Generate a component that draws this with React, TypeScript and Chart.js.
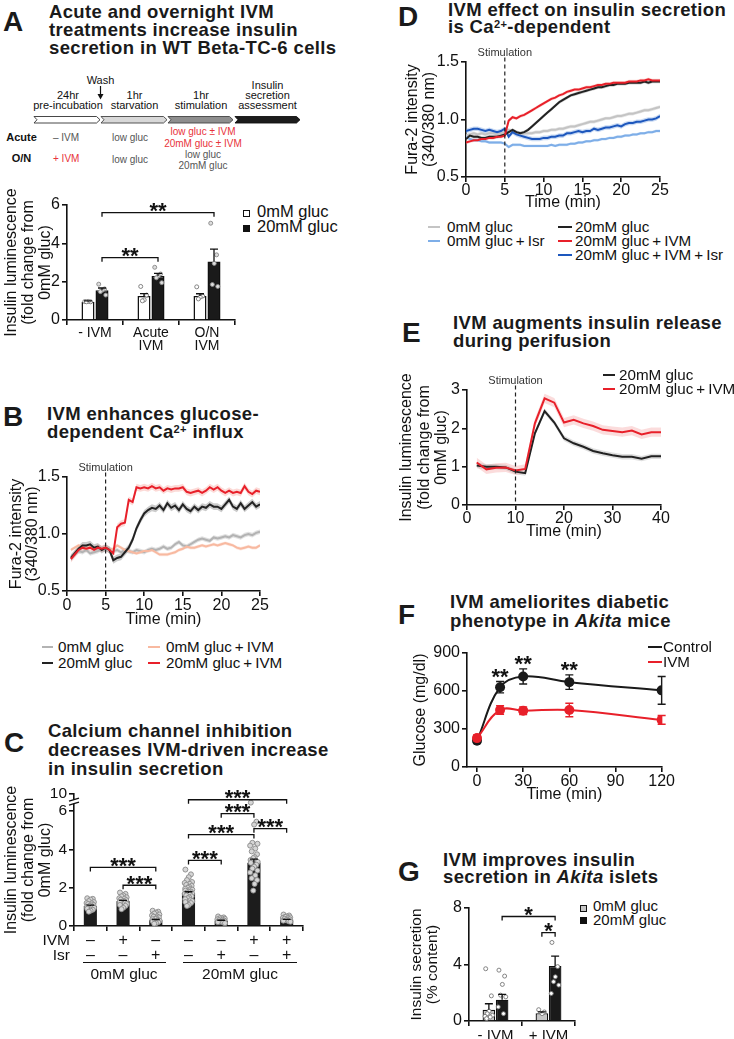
import React, { useEffect, useRef } from 'react';
import { Chart, registerables } from 'chart.js';

Chart.register(...registerables);

const FONT = "'Liberation Sans', Arial, Helvetica, sans-serif";
Chart.defaults.font.family = FONT;
Chart.defaults.color = '#111';

const PLUS = '\u2009+\u2009';

// ---------------- Panel A ----------------
const A_CATEGORIES = [['- IVM'], ['Acute', 'IVM'], ['O/N', 'IVM']];
const A_SERIES = ['0mM gluc', '20mM gluc'];
const A_GLUC0 = [0.95, 1.25, 1.25];
const A_GLUC20 = [1.55, 2.3, 3.05];
const A_GLUC0_SEM = [0.05, 0.13, 0.12];
const A_GLUC20_SEM = [0.12, 0.13, 0.65];
const A_GLUC0_DOTS = [[0.96, 0.95, 0.97, 0.95], [1.75, 1.3, 1.05, 1.0], [1.73, 1.25, 1.2, 1.1]];
const A_GLUC20_DOTS = [[1.87, 1.62, 1.55, 1.48, 1.3], [2.75, 2.4, 2.3, 2.2, 1.95], [5.05, 3.4, 2.95, 1.85, 1.75]];
const A_Y_TICKS = [0, 2, 4, 6];

// ---------------- Panel B ----------------
const B_TIME = [0.5, 1, 1.5, 2, 2.5, 3, 3.5, 4, 4.5, 5, 5.5, 6, 6.5, 7, 7.5, 8, 8.5, 9, 9.5, 10,
  10.5, 11, 11.5, 12, 12.5, 13, 13.5, 14, 14.5, 15, 15.5, 16, 16.5, 17, 17.5, 18, 18.5, 19, 19.5, 20,
  20.5, 21, 21.5, 22, 22.5, 23, 23.5, 24, 24.5, 25];
const B_GLUC0 = [0.8, 0.83, 0.85, 0.84, 0.86, 0.83, 0.84, 0.85, 0.87, 0.86,
  0.87, 0.85, 0.86, 0.84, 0.86, 0.85, 0.84, 0.86, 0.85, 0.84,
  0.86, 0.87, 0.86, 0.87, 0.89, 0.87, 0.88, 0.91, 0.93, 0.9,
  0.89, 0.91, 0.93, 0.95, 0.96, 0.95, 0.94, 0.97, 0.96, 0.97,
  0.98, 0.97, 0.99, 0.98, 0.97, 0.99, 1.0, 0.99, 1.01, 1.02];
const B_GLUC0_IVM = [0.86, 0.88, 0.9, 0.88, 0.87, 0.89, 0.87, 0.88, 0.87, 0.88,
  0.86, 0.87, 0.9, 0.88, 0.86, 0.85, 0.84, 0.83, 0.84, 0.85,
  0.85, 0.86, 0.84, 0.82, 0.82, 0.82, 0.83, 0.84, 0.86, 0.87,
  0.89, 0.88, 0.88, 0.89, 0.9, 0.89, 0.9, 0.91, 0.9, 0.91,
  0.92, 0.91, 0.9, 0.88, 0.87, 0.88, 0.89, 0.88, 0.88, 0.9];
const B_GLUC20 = [0.79, 0.83, 0.87, 0.9, 0.9, 0.91, 0.88, 0.89, 0.86, 0.88,
  0.86, 0.77, 0.79, 0.8, 0.84, 0.88, 0.95, 1.05, 1.12, 1.18,
  1.21, 1.23, 1.22, 1.25, 1.21, 1.27, 1.23, 1.25, 1.21, 1.26,
  1.22, 1.2, 1.24, 1.21, 1.24, 1.23, 1.26, 1.24, 1.24, 1.22,
  1.26, 1.3, 1.24, 1.22, 1.27, 1.22, 1.25, 1.28, 1.24, 1.26];
const B_GLUC20_IVM = [0.78, 0.82, 0.86, 0.88, 0.87, 0.88, 0.86, 0.88, 0.87, 0.88,
  0.86, 0.83, 1.06, 1.09, 1.1, 1.3, 1.28, 1.41, 1.4, 1.41,
  1.4, 1.42, 1.4, 1.41, 1.38, 1.4, 1.39, 1.4, 1.4, 1.41,
  1.37, 1.36, 1.37, 1.38, 1.36, 1.38, 1.41, 1.39, 1.41, 1.38,
  1.36, 1.38, 1.36, 1.37, 1.36, 1.42, 1.37, 1.35, 1.38, 1.37];
const B_SEM = [0.02, 0.015, 0.03, 0.03];

// ---------------- Panel C ----------------
const C_IVM = ['–', '+', '–', '–', '–', '+', '+'];
const C_ISR = ['–', '–', '+', '–', '+', '–', '+'];
const C_GROUPS = ['0mM gluc', '20mM gluc'];
const C_MEANS = [1.05, 1.3, 0.3, 1.72, 0.28, 3.3, 0.33];
const C_SEM = [0.04, 0.04, 0.04, 0.07, 0.02, 0.2, 0.02];
const C_DOTS = [
  [1.45, 1.42, 1.38, 1.3, 1.25, 1.2, 1.18, 1.15, 1.1, 1.08, 1.05, 1.0, 0.98, 0.95, 0.9, 0.85, 0.8, 0.75],
  [1.75, 1.68, 1.6, 1.55, 1.5, 1.45, 1.42, 1.38, 1.35, 1.3, 1.28, 1.25, 1.2, 1.15, 1.1, 1.05, 0.95, 0.88],
  [0.8, 0.75, 0.7, 0.65, 0.6, 0.55, 0.5, 0.48, 0.45, 0.4, 0.38, 0.35, 0.3, 0.28, 0.25, 0.2, 0.15, 0.12],
  [2.95, 2.7, 2.55, 2.4, 2.3, 2.25, 2.2, 2.15, 2.1, 2.05, 2.0, 1.95, 1.92, 1.9, 1.85, 1.8, 1.78, 1.75, 1.7, 1.68, 1.65, 1.6, 1.55, 1.5, 1.45, 1.4, 1.35, 1.3, 1.25, 1.2, 1.1, 1.05],
  [0.5, 0.45, 0.42, 0.4, 0.38, 0.35, 0.33, 0.3, 0.28, 0.25, 0.22, 0.2, 0.18, 0.15],
  [6.45, 5.45, 5.3, 4.35, 4.3, 4.2, 4.05, 3.9, 3.75, 3.6, 3.55, 3.45, 3.4, 3.35, 3.3, 3.2, 3.1, 3.0, 2.9, 2.8, 2.65, 2.5, 2.4, 2.2, 1.85],
  [0.6, 0.55, 0.5, 0.48, 0.45, 0.42, 0.4, 0.38, 0.35, 0.32, 0.3, 0.28, 0.25, 0.22],
];
// axis with a break: the top tick (drawn at 6.9) is labelled 10
const C_Y_TICKS = [0, 2, 4, 6, 6.9];
const C_Y_TICK_LABELS = ['0', '2', '4', '6', '10'];

// ---------------- Panel D ----------------
const D_TIME = [0, 0.5, 1, 1.5, 2, 2.5, 3, 3.5, 4, 4.5, 5, 5.5, 6, 6.5, 7, 7.5, 8, 8.5, 9, 9.5, 10,
  10.5, 11, 11.5, 12, 12.5, 13, 13.5, 14, 14.5, 15, 15.5, 16, 16.5, 17, 17.5, 18, 18.5, 19, 19.5, 20,
  20.5, 21, 21.5, 22, 22.5, 23, 23.5, 24, 24.5, 25];
const D_GLUC0 = [0.86, 0.87, 0.88, 0.87, 0.88, 0.87, 0.88, 0.88, 0.87, 0.88,
  0.89, 0.91, 0.9, 0.89, 0.88, 0.88, 0.88, 0.88, 0.89, 0.89,
  0.9, 0.9, 0.91, 0.91, 0.92, 0.92, 0.93, 0.94, 0.94, 0.95,
  0.96, 0.97, 0.98, 0.98, 0.99, 1.0, 1.01, 1.01, 1.02, 1.03,
  1.03, 1.04, 1.05, 1.05, 1.06, 1.07, 1.08, 1.08, 1.09, 1.1, 1.11];
const D_GLUC0_ISR = [0.85, 0.83, 0.82, 0.82, 0.81, 0.81, 0.8, 0.8, 0.8, 0.8,
  0.79, 0.76, 0.78, 0.78, 0.78, 0.77, 0.77, 0.77, 0.77, 0.77,
  0.77, 0.77, 0.78, 0.77, 0.78, 0.78, 0.78, 0.79, 0.79, 0.8,
  0.8, 0.81, 0.81, 0.82, 0.82, 0.83, 0.83, 0.84, 0.84, 0.85,
  0.85, 0.86, 0.86, 0.87, 0.87, 0.88, 0.88, 0.89, 0.89, 0.9, 0.9];
const D_GLUC20 = [0.83, 0.86, 0.85, 0.85, 0.84, 0.84, 0.85, 0.85, 0.85, 0.86,
  0.87, 0.89, 0.91, 0.89, 0.88, 0.89, 0.91, 0.94, 0.97, 1.0,
  1.03, 1.06, 1.09, 1.12, 1.15, 1.17, 1.19, 1.21, 1.22, 1.23,
  1.24, 1.25, 1.26, 1.27, 1.28, 1.28, 1.29, 1.3, 1.3, 1.31,
  1.31, 1.31, 1.32, 1.32, 1.32, 1.32, 1.33, 1.32, 1.33, 1.33, 1.33];
const D_GLUC20_IVM = [0.8, 0.81, 0.82, 0.82, 0.83, 0.83, 0.84, 0.84, 0.85, 0.85,
  0.86, 0.99, 1.02, 1.01, 1.03, 1.04, 1.06, 1.08, 1.1, 1.12,
  1.14, 1.16, 1.18, 1.19, 1.21, 1.22, 1.24, 1.25, 1.26, 1.26,
  1.27, 1.28, 1.28, 1.29, 1.3, 1.3, 1.31, 1.31, 1.32, 1.32,
  1.32, 1.32, 1.33, 1.33, 1.33, 1.34, 1.34, 1.35, 1.34, 1.34, 1.34];
const D_GLUC20_IVM_ISR = [0.9, 0.91, 0.92, 0.92, 0.91, 0.9, 0.91, 0.9, 0.89, 0.9,
  0.92, 0.85, 0.89, 0.87, 0.86, 0.85, 0.84, 0.83, 0.83, 0.83,
  0.84, 0.84, 0.85, 0.85, 0.86, 0.86, 0.88, 0.88, 0.89, 0.9,
  0.89, 0.9, 0.9, 0.92, 0.91, 0.92, 0.93, 0.93, 0.94, 0.95,
  0.94, 0.96, 0.97, 0.97, 0.98, 0.98, 0.99, 1.0, 1.0, 1.01, 1.03];
const D_SEM = [0.015, 0.012, 0.015, 0.015, 0.02];

// ---------------- Panel E ----------------
const E_TIME = [2, 4, 6, 8, 10, 12, 14, 16, 18, 20, 22, 24, 26, 28, 30, 32, 34, 36, 38, 40];
const E_GLUC20 = [1.03, 1.0, 1.0, 0.98, 0.87, 0.83, 1.87, 2.45, 2.15, 1.74, 1.61, 1.52, 1.41, 1.35, 1.3, 1.26, 1.26, 1.21, 1.27, 1.27];
const E_GLUC20_IVM = [1.11, 0.93, 0.97, 0.98, 0.9, 0.94, 2.13, 2.78, 2.67, 2.15, 2.22, 2.13, 2.06, 1.96, 1.93, 1.9, 1.94, 1.84, 1.9, 1.9];
const E_SEM = [0.07, 0.12];

// ---------------- Panel F ----------------
const F_TIME = [0, 15, 30, 60, 120];
const F_CONTROL = [207, 630, 715, 670, 605];
const F_CONTROL_SEM = [20, 45, 60, 57, 110];
const F_IVM = [228, 450, 445, 450, 372];
const F_IVM_SEM = [25, 34, 30, 53, 35];
const F_X_TICKS = [0, 30, 60, 90, 120];
const F_STARS = [1, 2, 3];

// ---------------- Panel G ----------------
const G_CATEGORIES = ['- IVM', '+ IVM'];
const G_GLUC0 = [0.8, 0.55];
const G_GLUC20 = [1.5, 3.9];
const G_GLUC0_SEM = [0.42, 0.1];
const G_GLUC20_SEM = [0.38, 0.7];
const G_GLUC0_DOTS = [[3.7, 1.78, 0.7, 0.52, 0.4, 0.33, 0.28, 0.17], [0.8, 0.64, 0.52]];
const G_GLUC20_DOTS = [[3.6, 3.18, 2.59, 1.83, 1.71, 1.0, 0.52], [5.56, 3.85, 3.13, 2.78, 2.54, 1.95]];

type Bracket = { from: [number, number]; to: [number, number]; y: number; label: string };
const A_BRACKETS: Bracket[] = [
  { from: [1, 0], to: [1, 1], y: 3.25, label: '**' },
  { from: [1, 0], to: [1, 2], y: 5.6, label: '**' },
];
const C_BRACKETS: Bracket[] = [
  { from: [0, 0], to: [0, 2], y: 3.06, label: '***' },
  { from: [0, 1], to: [0, 2], y: 2.13, label: '***' },
  { from: [0, 3], to: [0, 4], y: 3.43, label: '***' },
  { from: [0, 3], to: [0, 5], y: 4.78, label: '***' },
  { from: [0, 4], to: [0, 5], y: 5.87, label: '***' },
  { from: [0, 5], to: [0, 6], y: 5.09, label: '***' },
  { from: [0, 3], to: [0, 6], y: 6.6, label: '***' },
];
const G_BRACKETS: Bracket[] = [
  { from: [1, 0], to: [1, 1], y: 7.4, label: '*' },
  { from: [0, 1], to: [1, 1], y: 6.25, label: '*' },
];

const JITTER = [-0.28, 0.22, 0.02, -0.14, 0.32, -0.34, 0.12, -0.2, 0.28, 0.06, -0.06, -0.3, 0.18, 0.34];

// ---------------- helpers ----------------
const AX = '#111';
const common = {
  responsive: false,
  maintainAspectRatio: false,
  animation: false,
  events: [],
};
const noPlugins = { legend: { display: false }, tooltip: { enabled: false } };

const axisBase = (size: number, tickPad = 2, lh?: string) => ({
  border: { display: true, color: AX, width: 1.6 },
  grid: { display: true, drawOnChartArea: false, drawTicks: true, tickLength: 5, color: AX, lineWidth: 1.6 },
  ticks: { color: AX, font: { size, family: FONT, lineHeight: lh || `${size}px` }, padding: tickPad, maxRotation: 0, autoSkip: false },
});
const axisTitle = (text: any, size: number, lh: number, top: number, bottom = 0) => ({
  display: true, text, color: AX, font: { size, family: FONT, lineHeight: `${lh}px` }, padding: { top, bottom },
});

// vertical (rotated) axis title drawn without width compression
const yTitle = (lines: string[], size: number, lh: number, firstX: number) => ({
  id: 'yTitle',
  afterDraw(chart: any) {
    const { ctx, chartArea } = chart;
    const cy = (chartArea.top + chartArea.bottom) / 2;
    ctx.save();
    ctx.translate(firstX, cy);
    ctx.rotate(-Math.PI / 2);
    ctx.font = `${size}px ${FONT}`;
    ctx.fillStyle = AX;
    ctx.textAlign = 'center';
    ctx.textBaseline = 'middle';
    lines.forEach((l, i) => ctx.fillText(l, 0, i * lh));
    ctx.restore();
  },
});

function drawStars(ctx: any, x: number, centerY: number, label: string, size = 22) {
  ctx.font = `bold ${size}px ${FONT}`;
  ctx.textAlign = 'center';
  ctx.textBaseline = 'alphabetic';
  ctx.fillStyle = '#111';
  ctx.fillText(label, x, centerY + 0.573 * size);
}

function barDecor(o: { sems: number[][]; dots: number[][][]; dotFill: string[]; dotStroke: string[]; dotR: number; spread: number; brackets: Bracket[] }) {
  return {
    id: 'barDecor',
    afterDatasetsDraw(chart: any) {
      const ctx = chart.ctx;
      const ys = chart.scales.y;
      ctx.save();
      o.dots.forEach((groups, di) => {
        const meta = chart.getDatasetMeta(di);
        groups.forEach((vals, i) => {
          const bar = meta.data[i];
          const w = bar.width * o.spread;
          vals.forEach((v, k) => {
            const px = bar.x + JITTER[k % JITTER.length] * w;
            const py = ys.getPixelForValue(v);
            ctx.beginPath();
            ctx.arc(px, py, o.dotR, 0, Math.PI * 2);
            ctx.fillStyle = o.dotFill[di];
            ctx.fill();
            ctx.lineWidth = 0.9;
            ctx.strokeStyle = o.dotStroke[di];
            ctx.stroke();
          });
        });
      });
      o.sems.forEach((sems, di) => {
        const meta = chart.getDatasetMeta(di);
        sems.forEach((s, i) => {
          const bar = meta.data[i];
          const v = chart.data.datasets[di].data[i];
          const y0 = ys.getPixelForValue(v);
          const y1 = ys.getPixelForValue(v + s);
          ctx.strokeStyle = '#111';
          ctx.lineWidth = 1.3;
          ctx.beginPath();
          ctx.moveTo(bar.x, y0);
          ctx.lineTo(bar.x, y1);
          ctx.moveTo(bar.x - 4, y1);
          ctx.lineTo(bar.x + 4, y1);
          ctx.stroke();
        });
      });
      o.brackets.forEach((b) => {
        const x1 = chart.getDatasetMeta(b.from[0]).data[b.from[1]].x;
        const x2 = chart.getDatasetMeta(b.to[0]).data[b.to[1]].x;
        const y = ys.getPixelForValue(b.y);
        ctx.strokeStyle = '#111';
        ctx.lineWidth = 1.3;
        ctx.beginPath();
        ctx.moveTo(x1, y + 4);
        ctx.lineTo(x1, y);
        ctx.lineTo(x2, y);
        ctx.lineTo(x2, y + 4);
        ctx.stroke();
        drawStars(ctx, (x1 + x2) / 2, y - 7, b.label);
      });
      ctx.restore();
    },
  };
}

const stimPlugin = (t: number) => ({
  id: 'stim',
  afterDatasetsDraw(chart: any) {
    const { ctx, chartArea } = chart;
    const px = chart.scales.x.getPixelForValue(t);
    ctx.save();
    ctx.strokeStyle = '#222';
    ctx.lineWidth = 1.2;
    ctx.setLineDash([4, 3]);
    ctx.beginPath();
    ctx.moveTo(px, chartArea.top - 4.5);
    ctx.lineTo(px, chartArea.bottom);
    ctx.stroke();
    ctx.setLineDash([]);
    ctx.font = `11px ${FONT}`;
    ctx.fillStyle = '#333';
    ctx.textAlign = 'center';
    ctx.textBaseline = 'middle';
    ctx.fillText('Stimulation', px, chartArea.top - 9.5);
    ctx.restore();
  },
});

const axisBreak = (lo: number, hi: number) => ({
  id: 'axisBreak',
  afterDraw(chart: any) {
    const ys = chart.scales.y;
    const ctx = chart.ctx;
    const x = chart.chartArea.left;
    const y1 = ys.getPixelForValue(hi);
    const y2 = ys.getPixelForValue(lo);
    ctx.save();
    ctx.fillStyle = '#fff';
    ctx.fillRect(x - 3, y1, 6, y2 - y1);
    ctx.strokeStyle = '#111';
    ctx.lineWidth = 1.3;
    [y1, y2].forEach((y) => {
      ctx.beginPath();
      ctx.moveTo(x - 5, y + 1.5);
      ctx.lineTo(x + 5, y - 1.5);
      ctx.stroke();
    });
    ctx.restore();
  },
});

function lineSeries(times: number[], vals: number[], color: string, order: number) {
  return { data: times.map((t, i) => ({ x: t, y: vals[i] })), borderColor: color, borderWidth: 2, pointRadius: 0, fill: false, tension: 0, order };
}
function bandSeries(times: number[], vals: number[], sem: number, color: string) {
  return [
    { data: times.map((t, i) => ({ x: t, y: vals[i] + sem })), borderColor: 'rgba(0,0,0,0)', borderWidth: 0, pointRadius: 0, fill: '+1', backgroundColor: color, tension: 0, order: 20 },
    { data: times.map((t, i) => ({ x: t, y: vals[i] - sem })), borderColor: 'rgba(0,0,0,0)', borderWidth: 0, pointRadius: 0, fill: false, tension: 0, order: 20 },
  ];
}

// ---------------- chart configs ----------------
function makeA(): any {
  return {
    type: 'bar',
    data: {
      labels: A_CATEGORIES,
      datasets: [
        { label: A_SERIES[0], data: A_GLUC0, backgroundColor: '#fff', borderColor: '#111', borderWidth: 1.5, categoryPercentage: 0.5, barPercentage: 0.93 },
        { label: A_SERIES[1], data: A_GLUC20, backgroundColor: '#1a1a1a', borderColor: '#111', borderWidth: 1.5, categoryPercentage: 0.5, barPercentage: 0.93 },
      ],
    },
    options: {
      ...common,
      plugins: noPlugins,
      layout: { padding: { top: 20, right: 5, left: 0, bottom: 0 } },
      scales: {
        x: { ...axisBase(14, 2, '13px'), afterFit: (s: any) => { s.height = 40; } },
        y: {
          ...axisBase(16), min: 0, max: 6,
          afterBuildTicks: (s: any) => { s.ticks = A_Y_TICKS.map((v) => ({ value: v })); },
          afterFit: (s: any) => { s.width = 67; },
        },
      },
    },
    plugins: [
      barDecor({ sems: [A_GLUC0_SEM, A_GLUC20_SEM], dots: [A_GLUC0_DOTS, A_GLUC20_DOTS], dotFill: ['#fff', '#ddd'], dotStroke: ['#777', '#888'], dotR: 2, spread: 0.9, brackets: A_BRACKETS }),
      yTitle(['Insulin luminescence', '(fold change from', '0mM gluc)'], 16, 17, 12),
    ],
  };
}

function makeB(): any {
  return {
    type: 'line',
    data: {
      datasets: [
        ...bandSeries(B_TIME, B_GLUC0, B_SEM[0], 'rgba(170,170,170,0.35)'),
        ...bandSeries(B_TIME, B_GLUC0_IVM, B_SEM[1], 'rgba(250,190,170,0.35)'),
        ...bandSeries(B_TIME, B_GLUC20, B_SEM[2], 'rgba(110,110,110,0.35)'),
        ...bandSeries(B_TIME, B_GLUC20_IVM, B_SEM[3], 'rgba(245,150,140,0.35)'),
        lineSeries(B_TIME, B_GLUC20_IVM, '#e8202a', 1),
        lineSeries(B_TIME, B_GLUC20, '#222222', 2),
        lineSeries(B_TIME, B_GLUC0_IVM, '#f8b9a0', 3),
        lineSeries(B_TIME, B_GLUC0, '#b3b3b3', 4),
      ],
    },
    options: {
      ...common,
      plugins: noPlugins,
      layout: { padding: { top: 22, right: 12, left: 0, bottom: 0 } },
      scales: {
        x: {
          ...axisBase(16), type: 'linear', min: 0, max: 25,
          afterBuildTicks: (s: any) => { s.ticks = [0, 5, 10, 15, 20, 25].map((v) => ({ value: v })); },
          afterFit: (s: any) => { s.height = 41; },
          title: axisTitle('Time (min)', 16, 16, 0, 4),
        },
        y: {
          ...axisBase(16), min: 0.5, max: 1.5,
          afterBuildTicks: (s: any) => { s.ticks = [0.5, 1, 1.5].map((v) => ({ value: v })); },
          afterFit: (s: any) => { s.width = 67; },
        },
      },
    },
    plugins: [stimPlugin(5), yTitle(['Fura-2 intensity', '(340/380 nm)'], 16, 16, 17)],
  };
}

function makeC(): any {
  return {
    type: 'bar',
    data: {
      labels: C_IVM.map((v, i) => [v, C_ISR[i]]),
      datasets: [
        { data: C_MEANS, backgroundColor: '#1c1c1c', borderWidth: 0, categoryPercentage: 1, barPercentage: 0.4 },
      ],
    },
    options: {
      ...common,
      plugins: noPlugins,
      layout: { padding: { top: 14, right: 2, left: 0, bottom: 0 } },
      scales: {
        x: { ...axisBase(16, 2, '15px'), afterFit: (s: any) => { s.height = 40; } },
        y: {
          ...axisBase(15.5), min: 0, max: 6.9,
          afterBuildTicks: (s: any) => { s.ticks = C_Y_TICKS.map((v) => ({ value: v })); },
          ticks: { ...axisBase(15.5).ticks, callback: (_v: any, i: number) => C_Y_TICK_LABELS[i] },
          afterFit: (s: any) => { s.width = 74; },
        },
      },
    },
    plugins: [
      barDecor({ sems: [C_SEM], dots: [C_DOTS], dotFill: ['#d6d6d6'], dotStroke: ['#8a8a8a'], dotR: 2.5, spread: 0.85, brackets: C_BRACKETS }),
      axisBreak(6.4, 6.6),
      yTitle(['Insulin luminescence', '(fold change from', '0mM gluc)'], 16, 17, 12),
    ],
  };
}

function makeD(): any {
  return {
    type: 'line',
    data: {
      datasets: [
        ...bandSeries(D_TIME, D_GLUC0, D_SEM[0], 'rgba(190,190,190,0.4)'),
        ...bandSeries(D_TIME, D_GLUC0_ISR, D_SEM[1], 'rgba(150,190,235,0.4)'),
        ...bandSeries(D_TIME, D_GLUC20, D_SEM[2], 'rgba(120,120,120,0.35)'),
        ...bandSeries(D_TIME, D_GLUC20_IVM, D_SEM[3], 'rgba(245,150,140,0.35)'),
        ...bandSeries(D_TIME, D_GLUC20_IVM_ISR, D_SEM[4], 'rgba(100,150,220,0.35)'),
        lineSeries(D_TIME, D_GLUC20_IVM, '#e8202a', 1),
        lineSeries(D_TIME, D_GLUC20, '#222222', 2),
        lineSeries(D_TIME, D_GLUC20_IVM_ISR, '#1d57bd', 3),
        lineSeries(D_TIME, D_GLUC0, '#c4c4c4', 4),
        lineSeries(D_TIME, D_GLUC0_ISR, '#7eaee8', 5),
      ],
    },
    options: {
      ...common,
      plugins: noPlugins,
      layout: { padding: { top: 17, right: 12, left: 0, bottom: 0 } },
      scales: {
        x: {
          ...axisBase(16, 1), type: 'linear', min: 0, max: 25,
          afterBuildTicks: (s: any) => { s.ticks = [0, 5, 10, 15, 20, 25].map((v) => ({ value: v })); },
          afterFit: (s: any) => { s.height = 35; },
          title: axisTitle('Time (min)', 16, 16, 0, 1),
        },
        y: {
          ...axisBase(16), min: 0.5, max: 1.5,
          afterBuildTicks: (s: any) => { s.ticks = [0.5, 1, 1.5].map((v) => ({ value: v })); },
          afterFit: (s: any) => { s.width = 66; },
        },
      },
    },
    plugins: [stimPlugin(5), yTitle(['Fura-2 intensity', '(340/380 nm)'], 16, 17, 13)],
  };
}

function makeE(): any {
  return {
    type: 'line',
    data: {
      datasets: [
        ...bandSeries(E_TIME, E_GLUC20, E_SEM[0], 'rgba(150,150,150,0.3)'),
        ...bandSeries(E_TIME, E_GLUC20_IVM, E_SEM[1], 'rgba(240,130,130,0.28)'),
        lineSeries(E_TIME, E_GLUC20_IVM, '#e8202a', 1),
        lineSeries(E_TIME, E_GLUC20, '#222222', 2),
      ],
    },
    options: {
      ...common,
      plugins: noPlugins,
      layout: { padding: { top: 20, right: 12, left: 0, bottom: 0 } },
      scales: {
        x: {
          ...axisBase(16, 1), type: 'linear', min: 0, max: 40,
          afterBuildTicks: (s: any) => { s.ticks = [0, 10, 20, 30, 40].map((v) => ({ value: v })); },
          afterFit: (s: any) => { s.height = 35; },
          title: axisTitle('Time (min)', 16, 16, 0, 0),
        },
        y: {
          ...axisBase(16), min: 0, max: 3,
          afterBuildTicks: (s: any) => { s.ticks = [0, 1, 2, 3].map((v) => ({ value: v })); },
          afterFit: (s: any) => { s.width = 72; },
        },
      },
    },
    plugins: [stimPlugin(10), yTitle(['Insulin luminescence', '(fold change from', '0mM gluc)'], 16, 17.5, 12)],
  };
}

function makeF(): any {
  const sems = [F_CONTROL_SEM, F_IVM_SEM];
  const colors = ['#1a1a1a', '#e8202a'];
  return {
    type: 'line',
    data: {
      datasets: [
        { data: F_TIME.map((t, i) => ({ x: t, y: F_IVM[i] })), borderColor: colors[1], backgroundColor: colors[1], borderWidth: 2, pointRadius: 5, pointBorderWidth: 0, pointBackgroundColor: colors[1], tension: 0.4, order: 1 },
        { data: F_TIME.map((t, i) => ({ x: t, y: F_CONTROL[i] })), borderColor: colors[0], backgroundColor: colors[0], borderWidth: 2, pointRadius: 5, pointBorderWidth: 0, pointBackgroundColor: colors[0], tension: 0.4, order: 2 },
      ],
    },
    options: {
      ...common,
      plugins: noPlugins,
      layout: { padding: { top: 13, right: 15, left: 0, bottom: 0 } },
      scales: {
        x: {
          ...axisBase(16), type: 'linear', min: -6.5, max: 120,
          afterBuildTicks: (s: any) => { s.ticks = F_X_TICKS.map((v) => ({ value: v })); },
          afterFit: (s: any) => { s.height = 38; },
          title: axisTitle('Time (min)', 16, 16, 0, 2),
        },
        y: {
          ...axisBase(16), min: 0, max: 900,
          afterBuildTicks: (s: any) => { s.ticks = [0, 300, 600, 900].map((v) => ({ value: v })); },
          afterFit: (s: any) => { s.width = 72; },
        },
      },
    },
    plugins: [yTitle(['Glucose (mg/dl)'], 16, 16, 26), {
      id: 'fDecor',
      beforeDatasetsDraw(chart: any) {
        const ctx = chart.ctx;
        const ys = chart.scales.y;
        ctx.save();
        // dataset 0 = IVM, dataset 1 = Control
        [1, 0].forEach((di) => {
          const meta = chart.getDatasetMeta(di);
          const s = di === 1 ? sems[0] : sems[1];
          ctx.strokeStyle = di === 1 ? colors[0] : colors[1];
          ctx.lineWidth = 1.4;
          meta.data.forEach((p: any, i: number) => {
            const v = chart.data.datasets[di].data[i].y;
            const y1 = ys.getPixelForValue(v + s[i]);
            const y2 = ys.getPixelForValue(v - s[i]);
            ctx.beginPath();
            ctx.moveTo(p.x, y1); ctx.lineTo(p.x, y2);
            ctx.moveTo(p.x - 4, y1); ctx.lineTo(p.x + 4, y1);
            ctx.moveTo(p.x - 4, y2); ctx.lineTo(p.x + 4, y2);
            ctx.stroke();
          });
        });
        ctx.restore();
      },
      afterDatasetsDraw(chart: any) {
        const ctx = chart.ctx;
        const ys = chart.scales.y;
        const meta = chart.getDatasetMeta(1);
        ctx.save();
        F_STARS.forEach((i) => {
          const p = meta.data[i];
          const top = ys.getPixelForValue(F_CONTROL[i] + F_CONTROL_SEM[i]);
          drawStars(ctx, p.x, top - 10.5, '**');
        });
        ctx.restore();
      },
    }],
  };
}

function makeG(): any {
  return {
    type: 'bar',
    data: {
      labels: G_CATEGORIES,
      datasets: [
        { data: G_GLUC0, backgroundColor: '#c6c6c6', borderColor: '#111', borderWidth: 1.3, categoryPercentage: 0.5, barPercentage: 0.95 },
        { data: G_GLUC20, backgroundColor: '#1a1a1a', borderColor: '#111', borderWidth: 1.3, categoryPercentage: 0.5, barPercentage: 0.95 },
      ],
    },
    options: {
      ...common,
      plugins: noPlugins,
      layout: { padding: { top: 13, right: 2, left: 0, bottom: 0 } },
      scales: {
        x: { ...axisBase(15), afterFit: (s: any) => { s.height = 18; } },
        y: {
          ...axisBase(16), min: 0, max: 8,
          afterBuildTicks: (s: any) => { s.ticks = [0, 4, 8].map((v) => ({ value: v })); },
          afterFit: (s: any) => { s.width = 64; },
        },
      },
    },
    plugins: [
      barDecor({ sems: [G_GLUC0_SEM, G_GLUC20_SEM], dots: [G_GLUC0_DOTS, G_GLUC20_DOTS], dotFill: ['#fff', '#fff'], dotStroke: ['#777', '#777'], dotR: 2, spread: 0.9, brackets: G_BRACKETS }),
      yTitle(['Insulin secretion', '(% content)'], 15.5, 16, 12),
    ],
  };
}

// ---------------- React pieces ----------------
function ChartBox({ x, y, w, h, make }: any) {
  const ref = useRef<HTMLCanvasElement>(null);
  useEffect(() => {
    const c = new Chart(ref.current as HTMLCanvasElement, make());
    return () => c.destroy();
  }, []);
  return <canvas ref={ref} width={w} height={h} style={{ position: 'absolute', left: x, top: y, width: w, height: h }} />;
}

function Txt({ x, base, size = 15, color = '#111', bold = false, italic = false, align = 'left', ls = 0, children }: any) {
  const top = base - 0.8465 * size;
  const tx = align === 'center' ? 'translateX(-50%)' : align === 'right' ? 'translateX(-100%)' : undefined;
  return (
    <div style={{ position: 'absolute', left: x, top, fontSize: size, lineHeight: `${size}px`, fontWeight: bold ? 700 : 400, fontStyle: italic ? 'italic' : 'normal', color, whiteSpace: 'pre', transform: tx, letterSpacing: ls }}>
      {children}
    </div>
  );
}

function Title({ x, base, lines, size = 18.5, lh = 18, ls = 0.35 }: any) {
  const top = base - ((lh - 1.117 * size) / 2 + 0.905 * size);
  return (
    <div style={{ position: 'absolute', left: x, top, fontSize: size, lineHeight: `${lh}px`, fontWeight: 700, letterSpacing: ls, whiteSpace: 'nowrap', color: '#1a1a1a' }}>
      {lines.map((l: any, i: number) => <div key={i}>{l}</div>)}
    </div>
  );
}

const Sup = ({ children }: any) => (
  <span style={{ position: 'relative', top: '-0.45em', fontSize: '0.6em', lineHeight: 0 }}>{children}</span>
);

function Letter({ x, base, ch }: any) {
  return <Txt x={x} base={base} size={28} bold color="#1a1a1a">{ch}</Txt>;
}

const Sample = ({ x, y, w, color }: any) => (
  <div style={{ position: 'absolute', left: x, top: y - 1, width: w, height: 2, background: color }} />
);
const Square = ({ x, y, s, fill }: any) => (
  <div style={{ position: 'absolute', left: x, top: y, width: s, height: s, background: fill, border: '1.2px solid #111', boxSizing: 'border-box' }} />
);

function Schema() {
  const t = 116.5, b = 123, m = (t + b) / 2;
  const seg = (x0: number, x1: number) => `${x0},${t} ${x1 - 3.5},${t} ${x1},${m} ${x1 - 3.5},${b} ${x0},${b} ${x0 + 3},${m}`;
  return (
    <>
      <svg style={{ position: 'absolute', left: 0, top: 0 }} width={320} height={130}>
        <polygon points={seg(34, 100)} fill="#fff" stroke="#333" strokeWidth={0.9} />
        <polygon points={seg(101, 167)} fill="#d8d8d8" stroke="#444" strokeWidth={0.9} />
        <polygon points={seg(168, 233)} fill="#8e8e8e" stroke="#444" strokeWidth={0.9} />
        <polygon points={seg(235, 300)} fill="#1c1c1c" stroke="#111" strokeWidth={0.9} />
        <line x1={100.5} y1={86} x2={100.5} y2={95} stroke="#111" strokeWidth={1.2} />
        <polygon points="97.5,94 103.5,94 100.5,99.5" fill="#111" />
      </svg>
      <Txt x={100.5} base={84} size={11} align="center">Wash</Txt>
      <Txt x={68} base={99} size={11} align="center">24hr</Txt>
      <Txt x={68} base={109} size={11} align="center">pre-incubation</Txt>
      <Txt x={134.5} base={99} size={11} align="center">1hr</Txt>
      <Txt x={134.5} base={109} size={11} align="center">starvation</Txt>
      <Txt x={201} base={99} size={11} align="center">1hr</Txt>
      <Txt x={201} base={109} size={11} align="center">stimulation</Txt>
      <Txt x={267.5} base={89} size={11} align="center">Insulin</Txt>
      <Txt x={267.5} base={99} size={11} align="center">secretion</Txt>
      <Txt x={267.5} base={109} size={11} align="center">assessment</Txt>

      <Txt x={21.5} base={141} size={11} bold align="center">Acute</Txt>
      <Txt x={53} base={141} size={10} color="#555">– IVM</Txt>
      <Txt x={130} base={141} size={10} color="#555" align="center">low gluc</Txt>
      <Txt x={203} base={135} size={10} color="#e8333a" align="center">low gluc ± IVM</Txt>
      <Txt x={203} base={147} size={10} color="#e8333a" align="center">20mM gluc ± IVM</Txt>

      <Txt x={21.5} base={162} size={11} bold align="center">O/N</Txt>
      <Txt x={53} base={162} size={10} color="#e8333a">+ IVM</Txt>
      <Txt x={130} base={163} size={10} color="#555" align="center">low gluc</Txt>
      <Txt x={203} base={158} size={10} color="#555" align="center">low gluc</Txt>
      <Txt x={203} base={169} size={10} color="#555" align="center">20mM gluc</Txt>
    </>
  );
}

export default function App() {
  return (
    <div style={{ position: 'absolute', left: 0, top: 0, width: 734, height: 1039, background: '#fff', fontFamily: FONT, color: '#111', overflow: 'hidden' }}>
      {/* Panel A */}
      <Letter x={3} base={32} ch="A" />
      <Title x={49} base={18} lines={['Acute and overnight IVM', 'treatments increase insulin', 'secretion in WT Beta-TC-6 cells']} />
      <Schema />
      <ChartBox x={0} y={185} w={240} h={175} make={makeA} />
      <Square x={243} y={209.5} s={7} fill="#fff" />
      <Square x={243} y={224.5} s={7} fill="#111" />
      <Txt x={257} base={217} size={16.5}>{A_SERIES[0]}</Txt>
      <Txt x={257} base={232} size={16.5}>{A_SERIES[1]}</Txt>

      {/* Panel B */}
      <Letter x={3} base={427} ch="B" />
      <Title x={47} base={420} lines={['IVM enhances glucose-', <span key="b">dependent Ca<Sup>2+</Sup> influx</span>]} />
      <ChartBox x={0} y={455} w={272} h={177} make={makeB} />
      <Sample x={42} y={647} w={11} color="#b3b3b3" />
      <Sample x={42} y={663} w={11} color="#222" />
      <Sample x={148} y={647} w={12} color="#f8b9a0" />
      <Sample x={148} y={663} w={12} color="#e8202a" />
      <Txt x={58} base={652} size={15.2}>0mM gluc</Txt>
      <Txt x={58} base={668} size={15.2}>20mM gluc</Txt>
      <Txt x={166} base={652} size={15.2}>{`0mM gluc${PLUS}IVM`}</Txt>
      <Txt x={166} base={668} size={15.2}>{`20mM gluc${PLUS}IVM`}</Txt>

      {/* Panel C */}
      <Letter x={4} base={753} ch="C" />
      <Title x={48} base={737} lh={19} lines={['Calcium channel inhibition', 'decreases IVM-driven increase', 'in insulin secretion']} />
      <ChartBox x={0} y={780} w={305} h={186} make={makeC} />
      <Txt x={70} base={945} size={15.5} align="right">IVM</Txt>
      <Txt x={70} base={960} size={15.5} align="right">Isr</Txt>
      <div style={{ position: 'absolute', left: 83, top: 962, width: 83, height: 1.3, background: '#111' }} />
      <div style={{ position: 'absolute', left: 183, top: 962, width: 114, height: 1.3, background: '#111' }} />
      <Txt x={124} base={979} size={15.5} align="center">{C_GROUPS[0]}</Txt>
      <Txt x={240} base={979} size={15.5} align="center">{C_GROUPS[1]}</Txt>

      {/* Panel D */}
      <Letter x={398} base={27} ch="D" />
      <Title x={448} base={16} lh={17} lines={['IVM effect on insulin secretion', <span key="d">is Ca<Sup>2+</Sup>-dependent</span>]} />
      <ChartBox x={400} y={45} w={272} h={167} make={makeD} />
      <Sample x={428} y={227} w={12} color="#c4c4c4" />
      <Sample x={428} y={241} w={12} color="#7eaee8" />
      <Sample x={558} y={227} w={14} color="#222" />
      <Sample x={558} y={241} w={14} color="#e8202a" />
      <Sample x={558} y={255} w={14} color="#1d57bd" />
      <Txt x={447} base={232} size={15.2}>0mM gluc</Txt>
      <Txt x={447} base={246} size={15.2}>{`0mM gluc${PLUS}Isr`}</Txt>
      <Txt x={575} base={232} size={15.2}>20mM gluc</Txt>
      <Txt x={575} base={246} size={15.2}>{`20mM gluc${PLUS}IVM`}</Txt>
      <Txt x={575} base={260} size={15.2}>{`20mM gluc${PLUS}IVM${PLUS}Isr`}</Txt>

      {/* Panel E */}
      <Letter x={402} base={343} ch="E" />
      <Title x={453} base={329} lines={['IVM augments insulin release', 'during perifusion']} />
      <ChartBox x={395} y={370} w={278} h={170} make={makeE} />
      <Sample x={603} y={375} w={12} color="#222" />
      <Sample x={603} y={389} w={12} color="#e8202a" />
      <Txt x={619} base={380} size={15.2}>20mM gluc</Txt>
      <Txt x={619} base={394} size={15.2}>{`20mM gluc${PLUS}IVM`}</Txt>

      {/* Panel F */}
      <Letter x={398} base={625} ch="F" />
      <Title x={450} base={608} lh={19} lines={['IVM ameliorites diabetic', <span key="f">phenotype in <i>Akita</i> mice</span>]} />
      <ChartBox x={395} y={640} w={282} h={165} make={makeF} />
      <Sample x={648} y={647} w={14} color="#1a1a1a" />
      <Sample x={648} y={662} w={14} color="#e8202a" />
      <Txt x={663} base={652} size={15.2}>Control</Txt>
      <Txt x={663} base={667} size={15.2}>IVM</Txt>

      {/* Panel G */}
      <Letter x={398} base={882} ch="G" />
      <Title x={443} base={866} lh={17} lines={['IVM improves insulin', <span key="g">secretion in <i>Akita</i> islets</span>]} />
      <ChartBox x={405} y={895} w={172} h={144} make={makeG} />
      <Square x={580} y={905} s={6.5} fill="#c6c6c6" />
      <Square x={580} y={917} s={6.5} fill="#111" />
      <Txt x={593} base={911} size={15}>0mM gluc</Txt>
      <Txt x={593} base={925} size={15}>20mM gluc</Txt>
    </div>
  );
}
